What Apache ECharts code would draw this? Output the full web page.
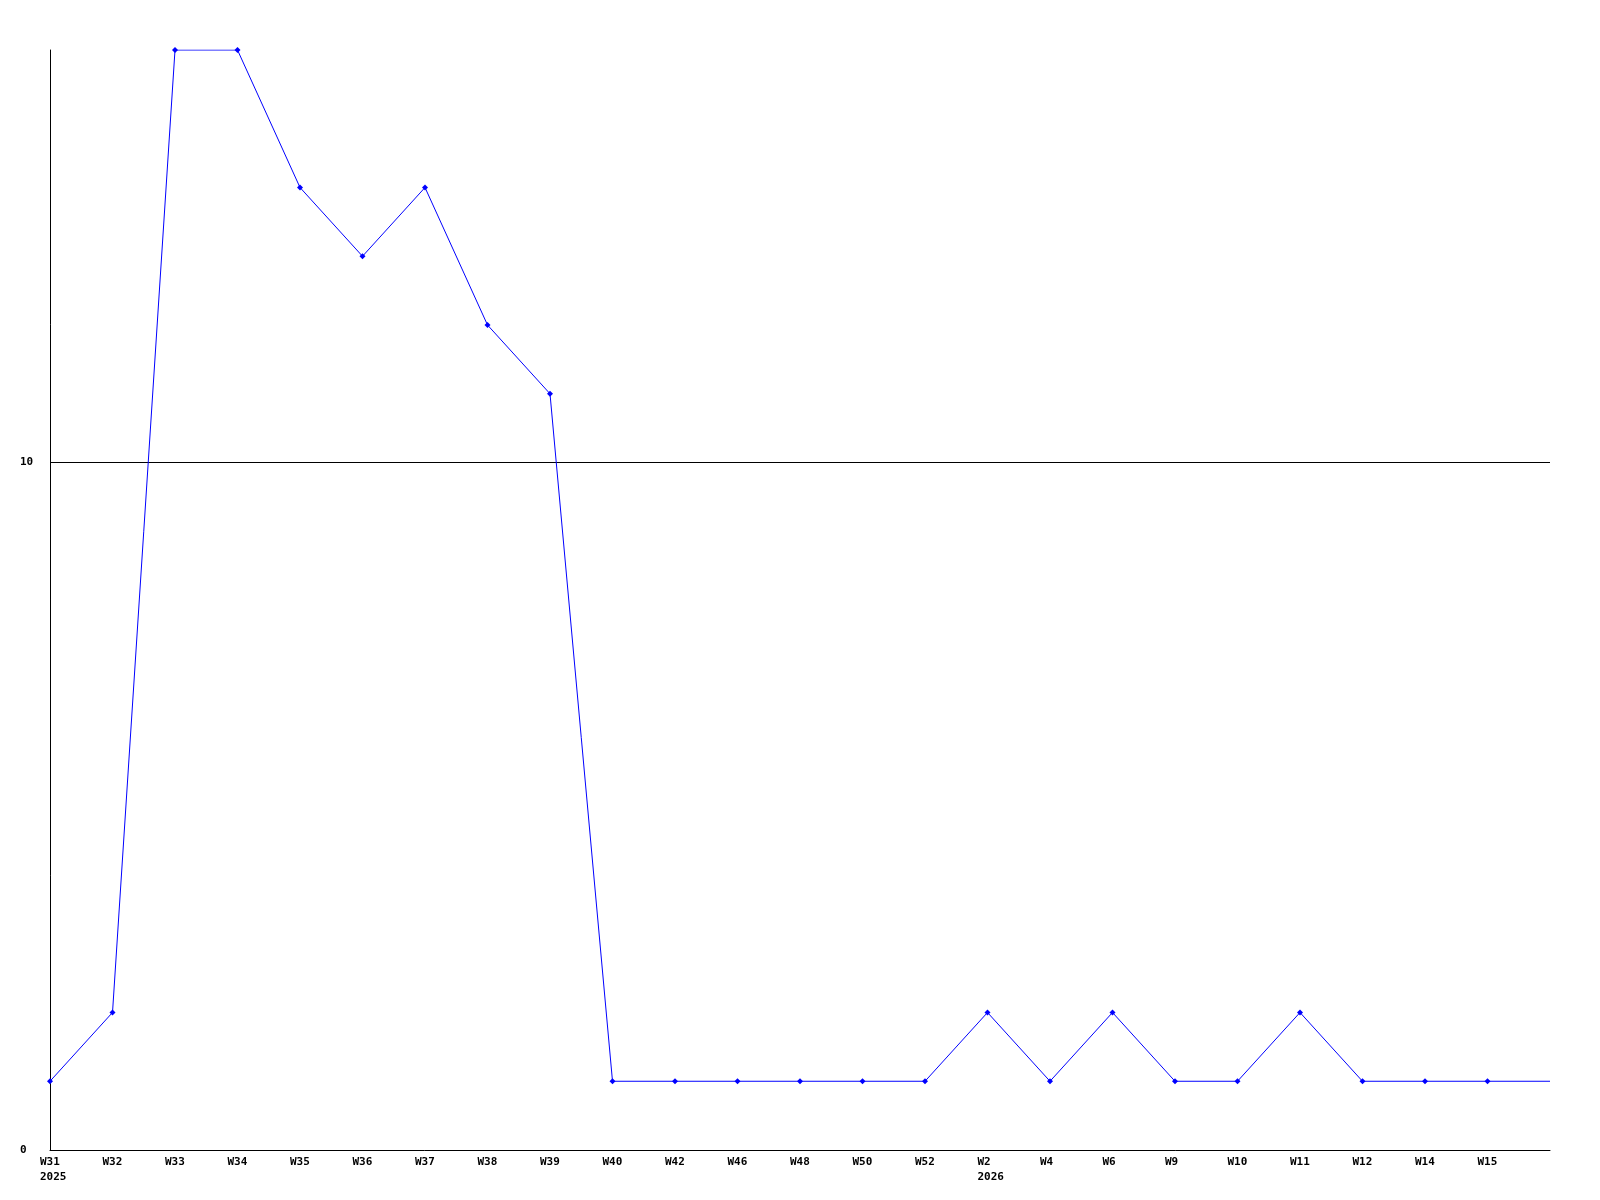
<!DOCTYPE html>
<html><head><meta charset="utf-8">
<script src="https://cdn.jsdelivr.net/npm/echarts@6/dist/echarts.min.js"></script>
<style>html,body{margin:0;padding:0;background:#fff}#c{width:1600px;height:1200px}</style>
</head><body><div id="c"></div>
<script>
const categories = ['W31','W32','W33','W34','W35','W36','W37','W38','W39','W40','W42','W46','W48','W50','W52','W2','W4','W6','W9','W10','W11','W12','W14','W15',''];
const yearLabels = {'W31':'2025','W2':'2026'};
const values = [1,2,16,16,14,13,14,12,11,1,1,1,1,1,1,2,1,2,1,1,2,1,1,1,1];
const yTicks = [0,10];

const chart = echarts.init(document.getElementById('c'));
const font = '"DejaVu Sans Mono", monospace';
chart.setOption({
  animation:false,
  backgroundColor:'#fff',
  grid:{left:50,right:50,top:50,bottom:50},
  xAxis:{
    type:'category', data:categories, boundaryGap:false,
    axisLine:{lineStyle:{color:'#000',width:1}},
    axisTick:{show:false},
    splitLine:{show:false},
    axisLabel:{
      interval:0, align:'left', margin:5, padding:[0,0,0,-10],
      color:'#000', fontFamily:font, fontWeight:'bold', fontSize:11, lineHeight:15,
      formatter:v=> yearLabels[v] ? v+'\n'+yearLabels[v] : v
    }
  },
  yAxis:{
    type:'value', min:0, max:16, interval:10,
    axisLine:{show:true,lineStyle:{color:'#000',width:1}},
    axisTick:{show:false},
    splitLine:{show:true,lineStyle:{color:['rgba(0,0,0,0)','#000','rgba(0,0,0,0)'],width:1}},
    axisLabel:{
      align:'left', margin:30, color:'#000', fontFamily:font, fontWeight:'bold', fontSize:11,
      formatter:v=> yTicks.indexOf(v)>=0 ? String(v) : ''
    }
  },
  series:[{
    type:'line',
    data: values.map((v,i)=> i===values.length-1 ? {value:v,symbol:'none'} : v),
    symbol:'diamond', symbolSize:6, showAllSymbol:true,
    lineStyle:{color:'#0000ff',width:1},
    itemStyle:{color:'#0000ff'},
    emphasis:{disabled:true}
  }]
});
</script></body></html>
